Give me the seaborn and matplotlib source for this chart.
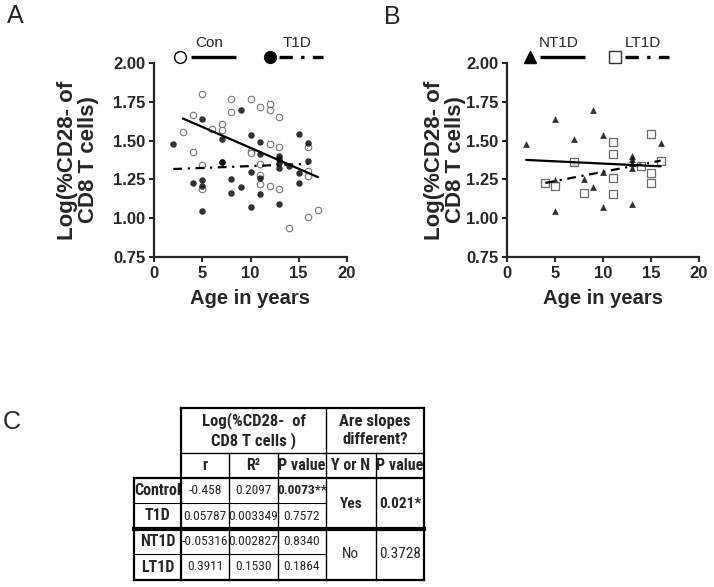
import matplotlib
matplotlib.use("Agg")
import matplotlib.pyplot as plt
from matplotlib import font_manager
import numpy as np
import pandas as pd
import seaborn as sns

# Panel A: controls (open circles)
con_age = [3, 4, 4, 5, 5, 5, 6, 7, 7, 8, 8, 10, 10, 10, 11, 11, 11, 11,
           12, 12, 12, 12, 13, 13, 13, 14, 16, 16, 16, 16, 17]
con_val = [1.555, 1.665, 1.425, 1.80, 1.34, 1.19, 1.575, 1.605, 1.57, 1.77,
           1.687, 1.77, 1.435, 1.42, 1.715, 1.35, 1.28, 1.22, 1.735, 1.70,
           1.48, 1.21, 1.655, 1.46, 1.19, 0.94, 1.46, 1.305, 1.27, 1.01, 1.05]

# Panel B: new-onset T1D (triangles) and long-standing T1D (squares)
nt1d_age = [2, 5, 5, 5, 7, 7, 8, 9, 9, 10, 10, 10, 13, 13, 13, 13, 13, 16]
nt1d_val = [1.48, 1.64, 1.245, 1.045, 1.51, 1.36, 1.25, 1.70, 1.20, 1.535,
            1.295, 1.075, 1.40, 1.38, 1.355, 1.325, 1.09, 1.485]
lt1d_age = [4, 5, 7, 8, 11, 11, 11, 11, 14, 15, 15, 15, 16]
lt1d_val = [1.23, 1.205, 1.365, 1.16, 1.49, 1.415, 1.26, 1.155, 1.335,
            1.54, 1.29, 1.225, 1.37]

# Table C
col_head = ["r", "R²", "P value", "Y or N", "P value"]
row_names = ["Control", "T1D", "NT1D", "LT1D"]
r_vals = ["-0.458", "0.05787", "-0.05316", "0.3911"]
r2_vals = ["0.2097", "0.003349", "0.002827", "0.1530"]
p_vals = ["0.0073**", "0.7572", "0.8340", "0.1864"]
slope_diff = ["Yes", "No"]
slope_p = ["0.021*", "0.3728"]

con = pd.DataFrame({"age": con_age, "val": con_val})
nt1d = pd.DataFrame({"age": nt1d_age, "val": nt1d_val})
lt1d = pd.DataFrame({"age": lt1d_age, "val": lt1d_val})
t1d = pd.concat([nt1d, lt1d], ignore_index=True)

sns.set_style("ticks")
plt.rcParams["font.family"] = ["Liberation Sans", "DejaVu Sans"]

# look for a narrow face for the table (Calibri-like look)
installed = {f.name for f in font_manager.fontManager.ttflist}
condensed = {f.name for f in font_manager.fontManager.ttflist
             if f.stretch in ("condensed", "semi-condensed", 600, 500, 700)}
tbl_font = dict(family=["Liberation Sans", "DejaVu Sans"])
tscale = 0.8
for nm in ["Liberation Sans Narrow", "Roboto Condensed", "Open Sans Condensed",
           "DejaVu Sans Condensed", "Noto Sans Condensed"]:
    if nm in installed:
        tbl_font = dict(family=[nm, "Liberation Sans"])
        tscale = 1.0
        break
else:
    if "DejaVu Sans" in condensed:
        tbl_font = dict(family=["DejaVu Sans"], stretch="condensed")
        tscale = 0.92

fig = plt.figure(figsize=(7.14, 5.87), dpi=100)
ax_a = fig.add_axes([154 / 714, 1 - 257 / 587, 193 / 714, 194 / 587])
ax_b = fig.add_axes([507 / 714, 1 - 257 / 587, 192 / 714, 194 / 587])

dashdot = (0, (4, 2.5, 1, 2.5))

sns.regplot(data=con, x="age", y="val", ax=ax_a, ci=None, marker="o",
            scatter_kws=dict(s=22, facecolors="white", edgecolors="#555555",
                             linewidths=0.8, zorder=3),
            line_kws=dict(color="black", lw=1.6, zorder=4))
sns.regplot(data=t1d, x="age", y="val", ax=ax_a, ci=None, marker="o",
            scatter_kws=dict(s=22, color="black", linewidths=0, zorder=3),
            line_kws=dict(color="black", lw=1.6, ls=dashdot, zorder=4))

sns.regplot(data=nt1d, x="age", y="val", ax=ax_b, ci=None, marker="^",
            scatter_kws=dict(s=24, color="black", linewidths=0, zorder=3),
            line_kws=dict(color="black", lw=1.6, zorder=4))
sns.regplot(data=lt1d, x="age", y="val", ax=ax_b, ci=None, marker="s",
            scatter_kws=dict(s=30, facecolors="white", edgecolors="#444444",
                             linewidths=0.9, zorder=3),
            line_kws=dict(color="black", lw=1.6, ls=dashdot, zorder=4))

for ax, lx in [(ax_a, -0.394), (ax_b, -0.323)]:
    ax.set_xlim(0, 20)
    ax.set_ylim(0.75, 2.0)
    ax.set_xticks([0, 5, 10, 15, 20])
    ax.set_yticks([0.75, 1.0, 1.25, 1.5, 1.75, 2.0])
    ax.set_yticklabels(["0.75", "1.00", "1.25", "1.50", "1.75", "2.00"])
    sns.despine(ax=ax)
    for s in ["left", "bottom"]:
        ax.spines[s].set_linewidth(1.6)
    ax.tick_params(width=1.5, length=3.8, pad=2.5, labelsize=12)
    for t in ax.get_xticklabels() + ax.get_yticklabels():
        t.set_fontweight("bold")
    ax.set_xlabel("Age in years", fontsize=14.5, fontweight="bold")
    ax.set_ylabel("Log(%CD28- of\nCD8 T cells)", fontsize=16,
                  fontweight="bold", linespacing=1.0)
    ax.xaxis.set_label_coords(0.5, -0.165)
    ax.yaxis.set_label_coords(lx, 0.5)
    ax.yaxis.label.set_va("center")

# legends above the panels
def legend_item(ax, label, x_mark, x0, x1, ls, mk_kws):
    ax.plot([x_mark], [1.031], transform=ax.transAxes, clip_on=False, **mk_kws)
    ax.plot([x0, x1], [1.031, 1.031], transform=ax.transAxes, clip_on=False,
            color="black", lw=2.4, ls=ls, solid_capstyle="butt",
            dash_capstyle="butt")
    ax.text((x0 + x1) / 2 - 0.02, 1.103, label, transform=ax.transAxes,
            ha="center", va="center", fontsize=11)

legend_item(ax_a, "Con", 0.135, 0.192, 0.425, "-",
            dict(marker="o", ms=8.5, mfc="white", mec="black", mew=1.0))
legend_item(ax_a, "T1D", 0.601, 0.648, 0.876, dashdot,
            dict(marker="o", ms=8.5, color="black"))
legend_item(ax_b, "NT1D", 0.12, 0.172, 0.406, "-",
            dict(marker="^", ms=9, color="black"))
legend_item(ax_b, "LT1D", 0.5625, 0.615, 0.844, dashdot,
            dict(marker="s", ms=8, mfc="white", mec="#333333", mew=1.0))

fig.text(15 / 714, 1 - 16 / 587, "A", fontsize=18, ha="center", va="center")
fig.text(392 / 714, 1 - 17 / 587, "B", fontsize=18, ha="center", va="center")
fig.text(12 / 714, 1 - 422 / 587, "C", fontsize=18, ha="center", va="center")

# table C drawn in pixel space
tb = fig.add_axes([0, 0, 1, 1])
tb.set_xlim(0, 714)
tb.set_ylim(587, 0)
tb.axis("off")
xs = [134, 181, 229.3, 277.7, 326, 375.7, 424.3]
ys = [408, 453, 478, 503, 529, 554, 580]
k = dict(color="black", solid_capstyle="projecting")
tb.plot([xs[1], xs[6]], [ys[0], ys[0]], lw=1.6, **k)
tb.plot([xs[1], xs[6]], [ys[1], ys[1]], lw=1.0, **k)
tb.plot([xs[0], xs[6]], [ys[2], ys[2]], lw=1.6, **k)
tb.plot([xs[0], xs[4]], [ys[3], ys[3]], lw=0.8, **k)
tb.plot([xs[0], xs[6]], [ys[4], ys[4]], lw=3.0, **k)
tb.plot([xs[0], xs[4]], [ys[5], ys[5]], lw=0.8, **k)
tb.plot([xs[0], xs[6]], [ys[6], ys[6]], lw=1.6, **k)
tb.plot([xs[0], xs[0]], [ys[2], ys[6]], lw=1.6, **k)
for i in [1, 4, 6]:
    tb.plot([xs[i], xs[i]], [ys[0], ys[6]], lw=1.6 if i != 4 else 1.0, **k)
for i in [2, 3, 5]:
    tb.plot([xs[i], xs[i]], [ys[1], ys[6]], lw=1.0, **k)

def cell(x, y, s, bold=False, size=10):
    tb.text(x, y, s, ha="center", va="center", fontsize=size * tscale,
            fontweight="bold" if bold else "normal", linespacing=1.2,
            **tbl_font)

cell((xs[1] + xs[4]) / 2, (ys[0] + ys[1]) / 2, "Log(%CD28-  of\nCD8 T cells )",
     bold=True, size=12)
cell((xs[4] + xs[6]) / 2, (ys[0] + ys[1]) / 2, "Are slopes\ndifferent?",
     bold=True, size=12)
for j, h in enumerate(col_head):
    cell((xs[j + 1] + xs[j + 2]) / 2, (ys[1] + ys[2]) / 2, h, bold=True,
         size=11.5)
for i, name in enumerate(row_names):
    yc = (ys[i + 2] + ys[i + 3]) / 2
    cell((xs[0] + xs[1]) / 2, yc, name, bold=True, size=11.5)
    cell((xs[1] + xs[2]) / 2, yc, r_vals[i], size=9.6)
    cell((xs[2] + xs[3]) / 2, yc, r2_vals[i], size=9.6)
    cell((xs[3] + xs[4]) / 2, yc, p_vals[i], bold=(i == 0), size=9.6)
for g in range(2):
    yc = (ys[2 + 2 * g] + ys[4 + 2 * g]) / 2
    cell((xs[4] + xs[5]) / 2, yc, slope_diff[g], bold=(g == 0), size=11)
    cell((xs[5] + xs[6]) / 2, yc, slope_p[g], bold=(g == 0), size=11)

fig.savefig("out.png", dpi=100)
